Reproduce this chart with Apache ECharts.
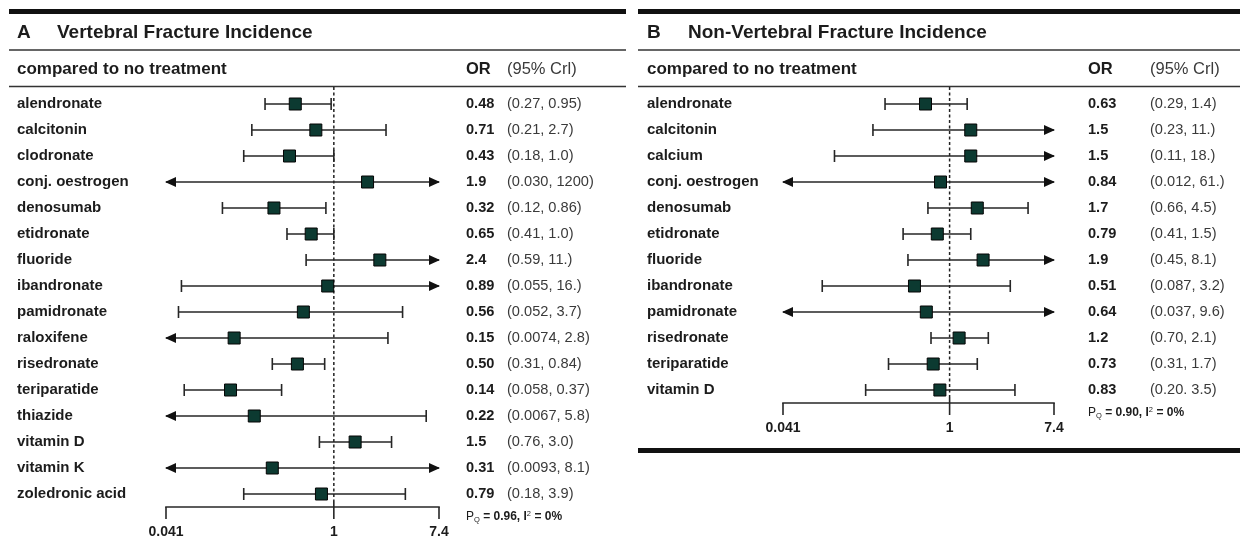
<!DOCTYPE html>
<html>
<head>
<meta charset="utf-8">
<script src="https://cdn.jsdelivr.net/npm/echarts@6/dist/echarts.min.js"></script>
<style>
  html, body { margin: 0; padding: 0; background: #fff; }
  #chart { width: 1243px; height: 548px; }
</style>
</head>
<body>
<div id="chart"></div>
<script>
// ---------- data ----------
const axisTicks = [0.041, 1, 7.4];
const axisTickLabels = ['0.041', '1', '7.4'];
const referenceOR = 1;

const aNames = ['alendronate', 'calcitonin', 'clodronate', 'conj. oestrogen', 'denosumab', 'etidronate', 'fluoride', 'ibandronate', 'pamidronate', 'raloxifene', 'risedronate', 'teriparatide', 'thiazide', 'vitamin D', 'vitamin K', 'zoledronic acid'];
const aOR = [0.48, 0.71, 0.43, 1.9, 0.32, 0.65, 2.4, 0.89, 0.56, 0.15, 0.50, 0.14, 0.22, 1.5, 0.31, 0.79];
const aLo = [0.27, 0.21, 0.18, 0.030, 0.12, 0.41, 0.59, 0.055, 0.052, 0.0074, 0.31, 0.058, 0.0067, 0.76, 0.0093, 0.18];
const aHi = [0.95, 2.7, 1.0, 1200, 0.86, 1.0, 11, 16, 3.7, 2.8, 0.84, 0.37, 5.8, 3.0, 8.1, 3.9];
const aORText = ['0.48', '0.71', '0.43', '1.9', '0.32', '0.65', '2.4', '0.89', '0.56', '0.15', '0.50', '0.14', '0.22', '1.5', '0.31', '0.79'];
const aCIText = ['(0.27, 0.95)', '(0.21, 2.7)', '(0.18, 1.0)', '(0.030, 1200)', '(0.12, 0.86)', '(0.41, 1.0)', '(0.59, 11.)', '(0.055, 16.)', '(0.052, 3.7)', '(0.0074, 2.8)', '(0.31, 0.84)', '(0.058, 0.37)', '(0.0067, 5.8)', '(0.76, 3.0)', '(0.0093, 8.1)', '(0.18, 3.9)'];

const bNames = ['alendronate', 'calcitonin', 'calcium', 'conj. oestrogen', 'denosumab', 'etidronate', 'fluoride', 'ibandronate', 'pamidronate', 'risedronate', 'teriparatide', 'vitamin D'];
const bOR = [0.63, 1.5, 1.5, 0.84, 1.7, 0.79, 1.9, 0.51, 0.64, 1.2, 0.73, 0.83];
const bLo = [0.29, 0.23, 0.11, 0.012, 0.66, 0.41, 0.45, 0.087, 0.037, 0.70, 0.31, 0.20];
const bHi = [1.4, 11, 18, 61, 4.5, 1.5, 8.1, 3.2, 9.6, 2.1, 1.7, 3.5];
const bORText = ['0.63', '1.5', '1.5', '0.84', '1.7', '0.79', '1.9', '0.51', '0.64', '1.2', '0.73', '0.83'];
const bCIText = ['(0.29, 1.4)', '(0.23, 11.)', '(0.11, 18.)', '(0.012, 61.)', '(0.66, 4.5)', '(0.41, 1.5)', '(0.45, 8.1)', '(0.087, 3.2)', '(0.037, 9.6)', '(0.70, 2.1)', '(0.31, 1.7)', '(0.20. 3.5)'];

const aHet = { pq: '0.96', i2: '0%' };
const bHet = { pq: '0.90', i2: '0%' };

// ---------- styling ----------
const FONT = "'Liberation Sans', Arial, Helvetica, sans-serif";
const X_MIN = axisTicks[0];
const X_MAX = axisTicks[axisTicks.length - 1];
const LINE_COLOR = '#262626';
const TEXT_COLOR = '#1c1c1c';
const CI_COLOR = '#3a3a3a';

function whiskerRender(params, api) {
  const lo = api.value(0), hi = api.value(1), idx = api.value(2);
  const y = api.coord([1, idx])[1];
  const xl = api.coord([Math.max(lo, X_MIN), idx])[0];
  const xr = api.coord([Math.min(hi, X_MAX), idx])[0];
  const st = { stroke: LINE_COLOR, lineWidth: 1.6 };
  const children = [
    { type: 'line', shape: { x1: xl, y1: y, x2: xr, y2: y }, style: st }
  ];
  if (lo < X_MIN) {
    children.push({ type: 'polygon', shape: { points: [[xl - 1, y], [xl + 10, y - 5], [xl + 10, y + 5]] }, style: { fill: '#111' } });
  } else {
    children.push({ type: 'line', shape: { x1: xl, y1: y - 6, x2: xl, y2: y + 6 }, style: st });
  }
  if (hi > X_MAX) {
    children.push({ type: 'polygon', shape: { points: [[xr + 1, y], [xr - 10, y - 5], [xr - 10, y + 5]] }, style: { fill: '#111' } });
  } else {
    children.push({ type: 'line', shape: { x1: xr, y1: y - 6, x2: xr, y2: y + 6 }, style: st });
  }
  return { type: 'group', children };
}

function makeTextRender(orTexts, ciTexts, orOff, ciOff) {
  return function (params, api) {
    const idx = api.value(1);
    const y = api.coord([1, idx])[1];
    const right = params.coordSys.x + params.coordSys.width;
    return {
      type: 'group',
      children: [
        { type: 'text', x: right + orOff, y: y, style: { text: orTexts[params.dataIndex], font: 'bold 14.6px ' + FONT, fill: TEXT_COLOR, verticalAlign: 'middle', align: 'left' } },
        { type: 'text', x: right + ciOff, y: y, style: { text: ciTexts[params.dataIndex], font: '14.6px ' + FONT, fill: CI_COLOR, verticalAlign: 'middle', align: 'left' } }
      ]
    };
  };
}

function makeAxisRender(labels, het, hetOff) {
  return function (params, api) {
    const v = api.value(0);
    const cs = params.coordSys;
    const yb = cs.y + cs.height;
    const x = api.coord([v, 0])[0];
    const st = { stroke: LINE_COLOR, lineWidth: 1.6 };
    const children = [
      { type: 'line', shape: { x1: x, y1: v === referenceOR ? yb - 6 : yb, x2: x, y2: yb + 12 }, style: st },
      { type: 'text', x: x, y: yb + 25, style: { text: labels[params.dataIndex], font: 'bold 14px ' + FONT, fill: TEXT_COLOR, align: 'center', verticalAlign: 'middle' } }
    ];
    if (v === referenceOR) {
      // dashed null-effect line from header rule down to the axis
      children.push({ type: 'line', shape: { x1: x, y1: cs.y - 4, x2: x, y2: yb - 6 }, style: { stroke: '#222', lineWidth: 1.5, lineDash: [3, 2.5] } });
    }
    if (params.dataIndex === 0) {
      const x0 = api.coord([X_MIN, 0])[0];
      const x1 = api.coord([X_MAX, 0])[0];
      children.push({ type: 'line', shape: { x1: x0 - 0.8, y1: yb, x2: x1 + 0.8, y2: yb }, style: st });
      children.push({
        type: 'text', x: cs.x + cs.width + hetOff, y: yb + 10,
        style: {
          text: '{p|P}{q|Q}{b| = ' + het.pq + ', I}{s|2}{b| = ' + het.i2 + '}',
          verticalAlign: 'middle', align: 'left',
          rich: {
            p: { font: '12px ' + FONT, fill: TEXT_COLOR },
            q: { font: '7.5px ' + FONT, fill: TEXT_COLOR, verticalAlign: 'bottom', padding: [6, 0, 0, 0] },
            b: { font: 'bold 12px ' + FONT, fill: TEXT_COLOR },
            s: { font: '7.5px ' + FONT, fill: TEXT_COLOR, verticalAlign: 'top', padding: [0, 0, 6, 0] }
          }
        }
      });
    }
    return { type: 'group', children };
  };
}

const gridA = { left: 166, top: 91, width: 273, height: 416 };
const gridB = { left: 783, top: 91, width: 271, height: 312 };

function xAxisCfg(gi) {
  return { type: 'log', logBase: 10, min: X_MIN, max: X_MAX, gridIndex: gi, show: false };
}
function yAxisCfg(gi, names, margin) {
  return {
    type: 'category', gridIndex: gi, data: names, inverse: true,
    axisLine: { show: false }, axisTick: { show: false }, splitLine: { show: false },
    axisLabel: { align: 'left', margin: margin, fontFamily: FONT, fontWeight: 'bold', fontSize: 15, color: TEXT_COLOR }
  };
}

function pointSeries(xi, ors) {
  return {
    type: 'scatter', xAxisIndex: xi, yAxisIndex: xi, z: 5,
    symbol: 'rect', symbolSize: 12,
    itemStyle: { color: '#0c3a31', borderColor: '#050505', borderWidth: 1, opacity: 1 },
    data: ors.map((v, i) => [v, i])
  };
}

function textLine(x, y, text, font, color) {
  return { type: 'text', x: x, y: y, style: { text: text, font: font, fill: color || TEXT_COLOR, verticalAlign: 'middle' } };
}

const headerGraphics = [
  // panel A frame
  { type: 'rect', shape: { x: 9, y: 9, width: 617, height: 5 }, style: { fill: '#111' } },
  { type: 'line', shape: { x1: 9, y1: 50, x2: 626, y2: 50 }, style: { stroke: '#333', lineWidth: 1.6 } },
  { type: 'line', shape: { x1: 9, y1: 86.5, x2: 626, y2: 86.5 }, style: { stroke: '#333', lineWidth: 1.6 } },
  textLine(17, 33, 'A', 'bold 19px ' + FONT),
  textLine(57, 33, 'Vertebral Fracture Incidence', 'bold 19px ' + FONT),
  textLine(17, 69, 'compared to no treatment', 'bold 17px ' + FONT),
  textLine(466, 69, 'OR', 'bold 16.5px ' + FONT),
  textLine(507, 69, '(95% Crl)', '16.5px ' + FONT, CI_COLOR),
  // panel B frame
  { type: 'rect', shape: { x: 638, y: 9, width: 602, height: 5 }, style: { fill: '#111' } },
  { type: 'line', shape: { x1: 638, y1: 50, x2: 1240, y2: 50 }, style: { stroke: '#333', lineWidth: 1.6 } },
  { type: 'line', shape: { x1: 638, y1: 86.5, x2: 1240, y2: 86.5 }, style: { stroke: '#333', lineWidth: 1.6 } },
  { type: 'rect', shape: { x: 638, y: 448, width: 602, height: 5 }, style: { fill: '#111' } },
  textLine(647, 33, 'B', 'bold 19px ' + FONT),
  textLine(688, 33, 'Non-Vertebral Fracture Incidence', 'bold 19px ' + FONT),
  textLine(647, 69, 'compared to no treatment', 'bold 17px ' + FONT),
  textLine(1088, 69, 'OR', 'bold 16.5px ' + FONT),
  textLine(1150, 69, '(95% Crl)', '16.5px ' + FONT, CI_COLOR)
];

const chart = echarts.init(document.getElementById('chart'), null, { renderer: 'canvas' });
chart.setOption({
  animation: false,
  backgroundColor: '#fff',
  textStyle: { fontFamily: FONT },
  grid: [gridA, gridB],
  xAxis: [xAxisCfg(0), xAxisCfg(1)],
  yAxis: [yAxisCfg(0, aNames, 149), yAxisCfg(1, bNames, 136)],
  graphic: headerGraphics,
  series: [
    { type: 'custom', xAxisIndex: 0, yAxisIndex: 0, z: 2, renderItem: makeAxisRender(axisTickLabels, aHet, 27), encode: { x: 0, y: 1 }, data: axisTicks.map(t => [t, 0]), clip: false },
    { type: 'custom', xAxisIndex: 0, yAxisIndex: 0, z: 3, renderItem: whiskerRender, encode: { x: [0, 1], y: 2 }, data: aLo.map((lo, i) => [lo, aHi[i], i]), clip: false },
    pointSeries(0, aOR),
    { type: 'custom', xAxisIndex: 0, yAxisIndex: 0, renderItem: makeTextRender(aORText, aCIText, 27, 68), encode: { x: 0, y: 1 }, data: aOR.map((v, i) => [v, i]), clip: false },

    { type: 'custom', xAxisIndex: 1, yAxisIndex: 1, z: 2, renderItem: makeAxisRender(axisTickLabels, bHet, 34), encode: { x: 0, y: 1 }, data: axisTicks.map(t => [t, 0]), clip: false },
    { type: 'custom', xAxisIndex: 1, yAxisIndex: 1, z: 3, renderItem: whiskerRender, encode: { x: [0, 1], y: 2 }, data: bLo.map((lo, i) => [lo, bHi[i], i]), clip: false },
    pointSeries(1, bOR),
    { type: 'custom', xAxisIndex: 1, yAxisIndex: 1, renderItem: makeTextRender(bORText, bCIText, 34, 96), encode: { x: 0, y: 1 }, data: bOR.map((v, i) => [v, i]), clip: false }
  ]
});
</script>
</body>
</html>
